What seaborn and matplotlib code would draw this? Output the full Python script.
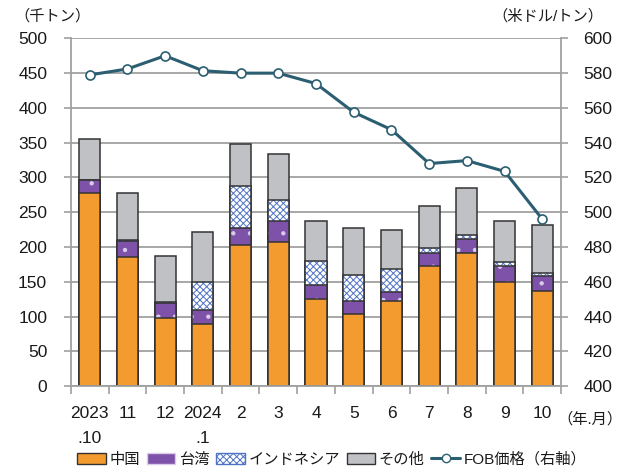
import numpy as np
import pandas as pd
import matplotlib
matplotlib.use("Agg")
import matplotlib.pyplot as plt
import seaborn as sns
from matplotlib.patches import Patch
from matplotlib.lines import Line2D

categories = ["2023\n.10", "11", "12", "2024\n.1", "2", "3", "4", "5", "6", "7", "8", "9", "10"]
china = [277, 185, 98, 90, 203, 207, 125, 103, 122, 172, 191, 150, 137]
taiwan = [19, 23, 21, 19, 25, 30, 21, 19, 13, 20, 20, 22, 21]
indonesia = [0, 2, 2, 41, 60, 31, 34, 38, 33, 7, 6, 7, 4]
others = [59, 67, 66, 72, 60, 66, 57, 67, 57, 60, 68, 59, 70]
fob = [579, 582.4, 590, 581.4, 580, 580, 574, 557.5, 547.5, 528, 529.7, 523.5, 496]

series_names = ["中国", "台湾", "インドネシア", "その他"]
line_name = "FOB価格（右軸）"

sns.set_theme(style="white")
plt.rcParams["font.family"] = ["Liberation Sans", "Noto Sans CJK JP"]
plt.rcParams["hatch.linewidth"] = 0.7

df = pd.DataFrame({"cat": categories, "china": china, "taiwan": taiwan,
                   "indonesia": indonesia, "others": others, "fob": fob})
df["l1"] = df["china"]
df["l2"] = df["l1"] + df["taiwan"]
df["l3"] = df["l2"] + df["indonesia"]
df["l4"] = df["l3"] + df["others"]

fig = plt.figure(figsize=(6.32, 4.68), dpi=100)
ax = fig.add_axes([0.112, 0.175, 0.776, 0.743])

edge = "#333333"
IND_HATCH_COL = "#4F72C4"
layers = [
    ("l4", "#C0C1C5", None, "#C0C1C5"),
    ("l3", "white", "xxxxx", IND_HATCH_COL),
    ("l2", "#7D52A8", ".", "#D8CCEA"),
    ("l1", "#F39B2F", None, "#F39B2F"),
]
W = 0.56
for col, face, hatch, hcol in layers:
    sns.barplot(data=df, x="cat", y=col, ax=ax, color=face, saturation=1,
                width=W, linewidth=0, edgecolor=hcol, hatch=hatch, errorbar=None)
    sns.barplot(data=df, x="cat", y=col, ax=ax, fill=False, width=W,
                linewidth=1.1, edgecolor=edge, errorbar=None)

ax.set_ylim(0, 500)
ax.set_xlim(-0.5, len(categories) - 0.5)
ax.set_yticks(np.arange(0, 501, 50))
ax.yaxis.grid(True, color="#A0A0A0", linewidth=1.3)
ax.set_axisbelow(True)
ax.set_xlabel("")
ax.set_ylabel("")
for s in ["top", "right"]:
    ax.spines[s].set_visible(False)
for s in ["left", "bottom"]:
    ax.spines[s].set_color("#A0A0A0")
    ax.spines[s].set_linewidth(1.3)
ax.tick_params(axis="y", which="major", left=True, length=5, width=1.2,
               color="#A0A0A0", pad=12, labelsize=12.5, labelcolor="#1a1a1a")
ax.tick_params(axis="x", which="major", length=0, pad=14, labelsize=12.5,
               labelcolor="#1a1a1a")
ax.set_xticks(np.arange(-0.5, len(categories), 1.0), minor=True)
ax.tick_params(axis="x", which="minor", bottom=True, length=6, width=1.2,
               color="#A0A0A0")
for t in ax.get_xticklabels():
    t.set_linespacing(1.9)
    t.set_verticalalignment("top")

ax2 = ax.twinx()
sns.lineplot(x=np.arange(len(categories)), y=df["fob"], ax=ax2, color="#2B5E70",
             linewidth=2.2, marker="o", markersize=6.5, markerfacecolor="white",
             markeredgecolor="#2B5E70", markeredgewidth=1.2, sort=False)
ax2.set_ylim(400, 600)
ax2.set_yticks(np.arange(400, 601, 20))
ax2.set_ylabel("")
ax2.grid(False)
for s in ["top", "left", "bottom"]:
    ax2.spines[s].set_visible(False)
ax2.spines["right"].set_color("#A0A0A0")
ax2.spines["right"].set_linewidth(1.3)
ax2.tick_params(axis="y", right=True, length=5, width=1.2, color="#A0A0A0",
                pad=11, labelsize=12.5, labelcolor="#1a1a1a")

fig.text(0.022, 0.965, "（千トン）", fontsize=11, ha="left", va="center", color="#1a1a1a")
fig.text(0.955, 0.965, "（米ドル/トン）", fontsize=11, ha="right", va="center", color="#1a1a1a")
fig.text(0.985, 0.105, "（年.月）", fontsize=11, ha="right", va="center", color="#1a1a1a")

handles = [
    Patch(facecolor="#F39B2F", edgecolor=edge, linewidth=1),
    Patch(facecolor="#7D52A8", edgecolor="#D8CCEA", hatch=".", linewidth=1),
    Patch(facecolor="white", edgecolor=IND_HATCH_COL, hatch="xxxxx", linewidth=1),
    Patch(facecolor="#C0C1C5", edgecolor=edge, linewidth=1),
    Line2D([0], [0], color="#2B5E70", linewidth=2.2, marker="o", markersize=6,
           markerfacecolor="white", markeredgecolor="#2B5E70"),
]
leg = fig.legend(handles, series_names + [line_name], loc="center", ncol=5,
                 bbox_to_anchor=(0.525, 0.018), frameon=False, fontsize=11,
                 handlelength=1.85, handleheight=0.8, handletextpad=0.25,
                 columnspacing=0.45, borderaxespad=0)
for t in leg.get_texts():
    t.set_color("#1a1a1a")

fig.savefig("out.png", dpi=100)
